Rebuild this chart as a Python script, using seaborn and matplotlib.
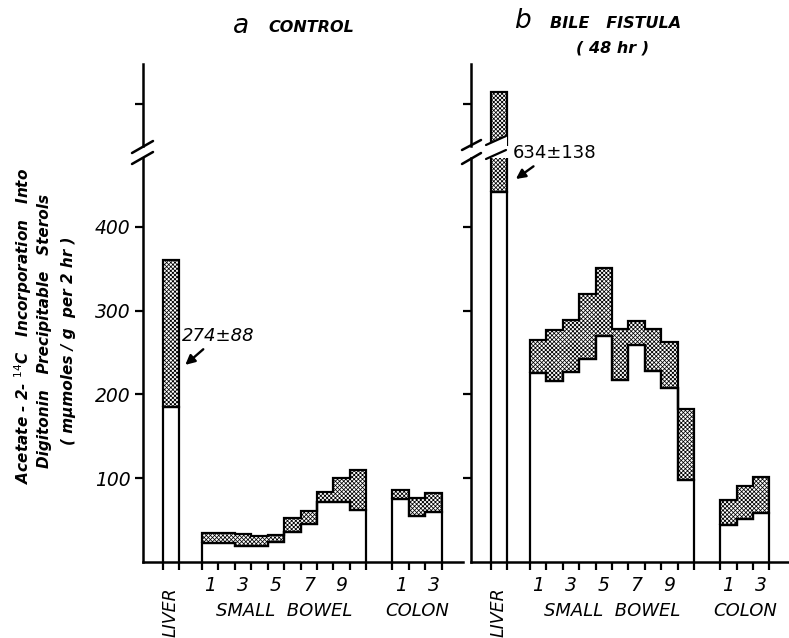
import numpy as np
import matplotlib
matplotlib.use("Agg")
import matplotlib.pyplot as plt
from matplotlib.lines import Line2D
from matplotlib.patches import Polygon
from matplotlib.transforms import blended_transform_factory
import seaborn as sns

# ---- values (mumoles/g per 2 hr), lower / upper edge of shaded band
ctrl_liver_low = [185]
ctrl_liver_high = [360]
ctrl_sb_low = [23, 23, 19, 19, 24, 36, 45, 71, 71, 62]
ctrl_sb_high = [35, 35, 33, 31, 32, 52, 61, 84, 100, 110]
ctrl_colon_low = [75, 55, 60]
ctrl_colon_high = [86, 76, 82]

bf_liver_low = [442]
bf_liver_high = [814]
bf_sb_low = [225, 216, 227, 242, 270, 217, 259, 228, 208, 98]
bf_sb_high = [265, 277, 289, 320, 351, 278, 288, 278, 263, 182]
bf_colon_low = [44, 51, 58]
bf_colon_high = [74, 91, 101]

sb_labels = ["1", "", "3", "", "5", "", "7", "", "9", ""]
colon_labels = ["1", "", "3"]
ytick_vals = [100, 200, 300, 400]

# x layout in "segment" units
liver_edges = np.array([1.2, 2.2])
sb_edges = np.arange(11) + 3.6
colon_edges = np.arange(4) + 15.2

W, H = 789, 638
HATCH = "xxxxxxxx"
LW = 1.6

sns.set_theme(style="ticks")
plt.rcParams["font.family"] = ["DejaVu Sans"]
plt.rcParams["hatch.linewidth"] = 0.55
plt.rcParams["axes.linewidth"] = 1.8
for k in ["text.color", "axes.edgecolor", "axes.labelcolor", "xtick.color", "ytick.color"]:
    plt.rcParams[k] = "black"


def px(x, y):
    # pixel position (from top-left) -> figure fraction
    return x / W, 1 - y / H


def box(x0, y_top, x1, y_bot):
    l, t = px(x0, y_top)
    r, b = px(x1, y_bot)
    return [l, b, r - l, t - b]


def draw_group(ax, edges, low, high):
    ax.stairs(high, edges, baseline=low, fill=True, facecolor="white",
              edgecolor="black", hatch=HATCH, lw=LW, zorder=3)
    ax.stairs(low, edges, baseline=0, fill=False, color="black", lw=LW, zorder=3)


def panel(x0, x1, xmax, data, show_labels):
    ax_hi = fig.add_axes(box(x0, 64, x1, 146))
    ax_lo = fig.add_axes(box(x0, 158, x1, 562))
    for ax in (ax_hi, ax_lo):
        for edges, (lo, hi) in zip([liver_edges, sb_edges, colon_edges], data):
            draw_group(ax, edges, lo, hi)
        ax.set_xlim(0, xmax)
        ax.set_facecolor("none")
    ax_lo.set_ylim(0, 482)
    ax_hi.set_ylim(750, 848)
    sns.despine(ax=ax_lo)
    sns.despine(ax=ax_hi, bottom=True)
    ax_hi.set_xticks([])
    ax_hi.set_yticks([800])
    ax_hi.set_yticklabels([])
    ax_hi.tick_params(axis="y", length=6, width=1.6, direction="out")

    ax_lo.set_yticks(ytick_vals)
    if show_labels:
        ax_lo.set_yticklabels([str(v) for v in ytick_vals], fontsize=13.5,
                              fontstyle="italic")
    else:
        ax_lo.set_yticklabels([])
    ax_lo.tick_params(axis="y", length=6, width=1.6, direction="out", pad=3)

    # tick marks on segment edges, numbers at segment centres
    edges_all = np.concatenate([liver_edges, sb_edges, colon_edges])
    ax_lo.set_xticks(edges_all)
    ax_lo.set_xticklabels([])
    ax_lo.tick_params(axis="x", which="major", length=6, width=1.6, direction="out")
    centres = np.concatenate([(sb_edges[:-1] + sb_edges[1:]) / 2,
                              (colon_edges[:-1] + colon_edges[1:]) / 2])
    ax_lo.set_xticks(centres, minor=True)
    ax_lo.set_xticklabels(sb_labels + colon_labels, minor=True,
                          fontsize=13.5, fontstyle="italic")
    ax_lo.tick_params(axis="x", which="minor", length=0, pad=10)

    tr = blended_transform_factory(ax_lo.transData, fig.transFigure)
    ax_lo.text(liver_edges.mean(), px(0, 612)[1], "LIVER", transform=tr, rotation=90,
               ha="center", va="center", fontsize=12.5, fontstyle="italic")
    ax_lo.text(sb_edges.mean(), px(0, 611)[1], "SMALL  BOWEL", transform=tr,
               ha="center", va="center", fontsize=13, fontstyle="italic")
    ax_lo.text(colon_edges.mean(), px(0, 611)[1], "COLON", transform=tr,
               ha="center", va="center", fontsize=13, fontstyle="italic")
    return ax_lo, ax_hi


def break_marks(xa, xb, y1a, y1b, y2a, y2b):
    for ya, yb in [(y1a, y1b), (y2a, y2b)]:
        (fx0, fy0), (fx1, fy1) = px(xa, ya), px(xb, yb)
        fig.add_artist(Line2D([fx0, fx1], [fy0, fy1], color="black", lw=1.8))


fig = plt.figure(figsize=(W / 100, H / 100), dpi=100)

ctrl = [(ctrl_liver_low, ctrl_liver_high), (ctrl_sb_low, ctrl_sb_high),
        (ctrl_colon_low, ctrl_colon_high)]
bf = [(bf_liver_low, bf_liver_high), (bf_sb_low, bf_sb_high),
      (bf_colon_low, bf_colon_high)]

axa, _ = panel(143, 463, 19.5, ctrl, True)
axb, _ = panel(471, 789, 19.4, bf, False)

# axis break marks
break_marks(132, 153, 153, 141, 164, 152)
break_marks(462, 481, 150, 140, 164, 153)

# slanted cut through the bile-fistula liver bar
cut = [px(484, 145), px(507, 136), px(507, 150), px(484, 159)]
fig.add_artist(Polygon(cut, closed=True, facecolor="white", edgecolor="none", zorder=10))
for (a, b) in [(cut[0], cut[1]), (cut[3], cut[2])]:
    fig.add_artist(Line2D([a[0] + 2 / W, b[0] - 1 / W], [a[1], b[1]], color="black",
                          lw=LW, zorder=11))

# annotations
axa.annotate("", xy=(2.45, 233), xytext=(3.8, 256),
             arrowprops=dict(arrowstyle="-|>", color="black", lw=1.7, mutation_scale=14))
axa.text(2.4, 270, "274±88", ha="left", va="center", fontsize=13, fontstyle="italic")
axb.annotate("", xy=(2.6, 455), xytext=(3.95, 474),
             arrowprops=dict(arrowstyle="-|>", color="black", lw=1.7, mutation_scale=14),
             annotation_clip=False)
axb.text(2.55, 488, "634±138", ha="left", va="center", fontsize=13)

# titles
fig.text(*px(241, 26), "a", ha="center", va="center", fontsize=19, fontstyle="italic")
fig.text(*px(311, 27), "CONTROL", ha="center", va="center", fontsize=11.5,
         fontweight="bold", fontstyle="italic")
fig.text(*px(522, 21), "b", ha="center", va="center", fontsize=19, fontstyle="italic")
fig.text(*px(616, 23), "BILE   FISTULA", ha="center", va="center", fontsize=11.5,
         fontweight="bold", fontstyle="italic")
fig.text(*px(613, 48), "( 48 hr )", ha="center", va="center", fontsize=11.5,
         fontweight="bold", fontstyle="italic")

# y label, three lines
ylab = ["Acetate - 2- $^{14}$C   Incorporation   Into",
        "Digitonin   Precipitable   Sterols",
        "( m\u00b5moles / g  per 2 hr )"]
for (x, y), s in zip([(23, 326), (45, 331), (69, 341)], ylab):
    fig.text(*px(x, y), s, rotation=90, ha="center", va="center", fontsize=11,
             fontweight="bold", fontstyle="italic")

fig.savefig("out.png", dpi=100)
